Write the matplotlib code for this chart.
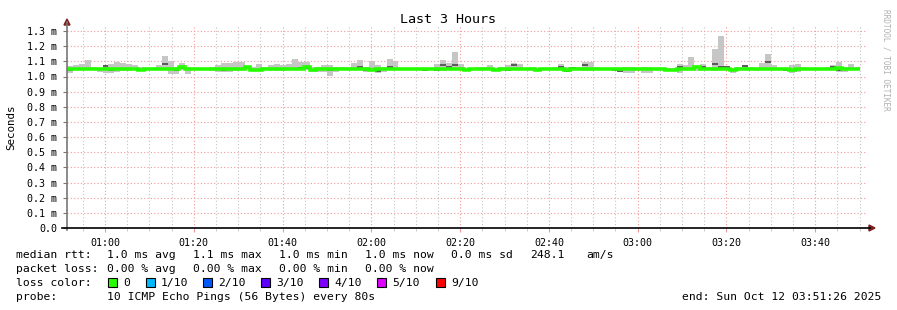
import numpy as np
import matplotlib
matplotlib.use("Agg")
import matplotlib.pyplot as plt
from matplotlib.lines import Line2D
from matplotlib.patches import Polygon, Rectangle
from matplotlib.ticker import FuncFormatter, MultipleLocator

plt.rcParams['font.family'] = ['DejaVu Sans Mono']

# ---------------- data (ms) ----------------
start_min = 51 + 26 / 60.0      # 00:51:26
end_min = start_min + 180.0      # 03:51:26
step_min = 80 / 60.0             # 80 s probe interval

smoke_hi = [
    1.069, 1.076, 1.083, 1.109, 1.062, 1.058, 1.066, 1.083, 1.096, 1.090,
    1.083, 1.076, 1.060, 1.055, 1.058, 1.076, 1.135, 1.104, 1.060, 1.089,
    1.060, 1.056, 1.056, 1.056, 1.060, 1.076, 1.089, 1.089, 1.096, 1.096,
    1.065, 1.060, 1.083, 1.060, 1.076, 1.083, 1.076, 1.083, 1.115, 1.096,
    1.096, 1.060, 1.065, 1.076, 1.076, 1.065, 1.060, 1.065, 1.087, 1.109,
    1.065, 1.102, 1.075, 1.065, 1.115, 1.102, 1.056, 1.058, 1.055, 1.055,
    1.055, 1.058, 1.083, 1.109, 1.089, 1.162, 1.083, 1.056, 1.055, 1.065,
    1.065, 1.076, 1.056, 1.065, 1.076, 1.087, 1.083, 1.056, 1.065, 1.056,
    1.055, 1.055, 1.065, 1.083, 1.065, 1.058, 1.065, 1.096, 1.096, 1.065,
    1.055, 1.055, 1.055, 1.055, 1.065, 1.065, 1.055, 1.065, 1.065, 1.055,
    1.055, 1.055, 1.055, 1.083, 1.076, 1.129, 1.065, 1.083, 1.065, 1.181,
    1.267, 1.065, 1.056, 1.065, 1.076, 1.065, 1.055, 1.089, 1.149, 1.076,
    1.055, 1.055, 1.076, 1.083, 1.065, 1.055, 1.055, 1.055, 1.060, 1.076,
    1.096, 1.060, 1.083, 1.060,
]
smoke_lo = [
    1.021, 1.040, 1.045, 1.045, 1.045, 1.030, 1.025, 1.025, 1.030, 1.035,
    1.035, 1.040, 1.035, 1.040, 1.045, 1.045, 1.040, 1.016, 1.016, 1.040,
    1.016, 1.045, 1.045, 1.045, 1.035, 1.030, 1.030, 1.030, 1.035, 1.040,
    1.040, 1.035, 1.035, 1.040, 1.040, 1.035, 1.035, 1.040, 1.040, 1.040,
    1.040, 1.030, 1.030, 1.030, 1.005, 1.030, 1.040, 1.045, 1.045, 1.045,
    1.030, 1.040, 1.020, 1.030, 1.040, 1.045, 1.045, 1.045, 1.045, 1.045,
    1.035, 1.040, 1.035, 1.035, 1.045, 1.045, 1.050, 1.045, 1.045, 1.045,
    1.045, 1.045, 1.040, 1.035, 1.035, 1.040, 1.045, 1.045, 1.045, 1.040,
    1.048, 1.048, 1.045, 1.045, 1.030, 1.045, 1.045, 1.035, 1.035, 1.045,
    1.045, 1.045, 1.035, 1.030, 1.025, 1.025, 1.035, 1.025, 1.025, 1.040,
    1.045, 1.035, 1.035, 1.025, 1.045, 1.040, 1.035, 1.045, 1.040, 1.035,
    1.040, 1.045, 1.020, 1.045, 1.045, 1.045, 1.035, 1.045, 1.045, 1.045,
    1.045, 1.035, 1.020, 1.030, 1.040, 1.045, 1.045, 1.045, 1.045, 1.045,
    1.030, 1.030, 1.045, 1.045,
]
median = [
    1.052, 1.052, 1.052, 1.052, 1.052, 1.052, 1.052, 1.052, 1.052, 1.052,
    1.052, 1.052, 1.040, 1.052, 1.052, 1.052, 1.052, 1.052, 1.052, 1.062,
    1.052, 1.052, 1.052, 1.052, 1.052, 1.052, 1.052, 1.052, 1.052, 1.052,
    1.062, 1.040, 1.040, 1.052, 1.052, 1.052, 1.052, 1.052, 1.052, 1.052,
    1.060, 1.045, 1.052, 1.052, 1.052, 1.052, 1.052, 1.052, 1.052, 1.052,
    1.052, 1.045, 1.052, 1.052, 1.052, 1.052, 1.052, 1.052, 1.052, 1.052,
    1.052, 1.052, 1.052, 1.052, 1.052, 1.052, 1.052, 1.045, 1.052, 1.052,
    1.052, 1.052, 1.045, 1.052, 1.052, 1.052, 1.052, 1.052, 1.052, 1.045,
    1.052, 1.052, 1.052, 1.052, 1.045, 1.052, 1.052, 1.052, 1.052, 1.052,
    1.052, 1.052, 1.052, 1.052, 1.052, 1.052, 1.052, 1.052, 1.052, 1.052,
    1.052, 1.045, 1.045, 1.052, 1.052, 1.052, 1.060, 1.052, 1.052, 1.052,
    1.052, 1.052, 1.040, 1.052, 1.052, 1.052, 1.052, 1.052, 1.052, 1.052,
    1.052, 1.052, 1.042, 1.052, 1.052, 1.052, 1.052, 1.052, 1.052, 1.052,
    1.058, 1.052, 1.052, 1.052,
]
nan = float('nan')
dark_ping = [nan] * len(median)
for i, v in {0: 1.043, 6: 1.070, 7: 1.040, 16: 1.085, 18: 1.040, 19: 1.058,
             26: 1.043, 29: 1.048, 39: 1.058, 40: 1.058, 44: 1.045, 49: 1.065,
             50: 1.045, 52: 1.038, 54: 1.065, 60: 1.040, 62: 1.045, 63: 1.075,
             64: 1.065, 65: 1.075, 74: 1.040, 75: 1.076, 83: 1.065, 84: 1.035,
             85: 1.058, 87: 1.075, 92: 1.040, 93: 1.035, 102: 1.040, 103: 1.065,
             107: 1.065, 109: 1.080, 110: 1.060, 111: 1.060, 114: 1.070,
             118: 1.098, 121: 1.040, 129: 1.060, 130: 1.040}.items():
    dark_ping[i] = v

loss_labels = ['0', '1/10', '2/10', '3/10', '4/10', '5/10', '9/10']
loss_colors = ['#26ff00', '#00b8ff', '#0059ff', '#5e00ff', '#7e00ff', '#dd00ff', '#ff0000']

# ---------------- figure ----------------
W, H = 897, 310
fig = plt.figure(figsize=(W / 100, H / 100), dpi=100)
fig.patch.set_facecolor('white')

x0, x1, y0, ytop = 67, 866, 228, 26
ax = fig.add_axes([x0 / W, (H - y0) / H, (x1 - x0) / W, (y0 - ytop) / H])
ax.set_facecolor('white')
ymax = (y0 - ytop) / 151.5
ax.set_xlim(start_min, end_min)
ax.set_ylim(0, ymax)

# grid
for v in np.arange(5 * np.ceil(start_min / 5), end_min, 5):
    if abs(v % 20) < 1e-6:
        ax.axvline(v, color='#f29a9a', lw=0.8, ls=(0, (1, 2)), zorder=1)
    else:
        ax.axvline(v, color='#c4c4c4', lw=0.8, ls=(0, (1, 2)), zorder=1)
for v in np.arange(0.1, 1.31, 0.1):
    ax.axhline(v, color='#f29a9a', lw=0.8, ls=(0, (1, 2)), zorder=1)

# smoke
n = len(median)
t = start_min + np.arange(n) * step_min
hi = np.array(smoke_hi)
lo = np.array(smoke_lo)
ax.bar(t, hi - lo, bottom=lo, width=step_min, align='edge', color='#c6c6c6',
       linewidth=0, zorder=2)
dk = np.array(dark_ping)
ax.hlines(dk, t, t + step_min, color='#5a5a5a', lw=1.4, zorder=3)

# median
tm = np.append(t, t[-1] + step_min)
med = np.append(median, median[-1])
ax.step(tm, med, where='post', color='#26ff00', lw=2.6, zorder=4,
        solid_joinstyle='miter', solid_capstyle='butt')

for s in ax.spines.values():
    s.set_visible(False)

ax.xaxis.set_major_locator(MultipleLocator(20))
ax.xaxis.set_minor_locator(MultipleLocator(5))
ax.xaxis.set_major_formatter(FuncFormatter(lambda v, p: f"{int(round(v)) // 60:02d}:{int(round(v)) % 60:02d}"))
ax.yaxis.set_major_locator(MultipleLocator(0.1))
ax.yaxis.set_major_formatter(FuncFormatter(lambda v, p: "0.0" if abs(v) < 1e-9 else f"{v:.1f} m"))
ax.tick_params(axis='x', which='major', length=3, color='#f29a9a', labelsize=7.2, pad=4)
ax.tick_params(axis='x', which='minor', length=2, color='#c4c4c4')
ax.tick_params(axis='y', length=3, color='#777777', labelsize=7.2, pad=4)

# axes lines with arrows (figure pixel coords)
def fx(px):
    return px / W

def fy(py):
    return 1 - py / H

fig.add_artist(Line2D([fx(x0), fx(x0)], [fy(y0 + 2), fy(22)], color='#777777', lw=1.2))
fig.add_artist(Line2D([fx(62), fx(870)], [fy(y0), fy(y0)], color='#000000', lw=1.2))
fig.add_artist(Polygon([[fx(x0 - 3), fy(25)], [fx(x0 + 3), fy(25)], [fx(x0), fy(19)]],
                       closed=True, color='#7f1f1f'))
fig.add_artist(Polygon([[fx(869), fy(y0 - 3)], [fx(869), fy(y0 + 3)], [fx(875), fy(y0)]],
                       closed=True, color='#7f1f1f'))

# titles
fig.text(fx(448), fy(23), 'Last 3 Hours', ha='center', va='baseline', fontsize=9.6)
fig.text(fx(11), fy(127), 'Seconds', ha='center', va='center', rotation=90, fontsize=7.8)
fig.text(fx(886), fy(60), 'RRDTOOL / TOBI OETIKER', ha='center', va='center',
         rotation=270, fontsize=5.6, color='#b0b0b0')

fs = 8.2
rows = [258, 272, 286, 300]   # text baselines (pixels from top)
for xp, s in [(16, 'median rtt:'), (107, '1.0 ms avg'), (193, '1.1 ms max'),
              (279, '1.0 ms min'), (365, '1.0 ms now'), (451, '0.0 ms sd'),
              (530, '248.1'), (586, 'am/s')]:
    fig.text(fx(xp), fy(rows[0]), s, ha='left', va='baseline', fontsize=fs)
for xp, s in [(16, 'packet loss:'), (107, '0.00 % avg'), (193, '0.00 % max'),
              (279, '0.00 % min'), (365, '0.00 % now')]:
    fig.text(fx(xp), fy(rows[1]), s, ha='left', va='baseline', fontsize=fs)
fig.text(fx(16), fy(rows[2]), 'loss color:', ha='left', va='baseline', fontsize=fs)
box_x = [108, 146, 203, 261, 319, 377, 436]
for bx, lab, col in zip(box_x, loss_labels, loss_colors):
    fig.add_artist(Rectangle((fx(bx), fy(rows[2] + 0.5)), 9 / W, 9 / H,
                             facecolor=col, edgecolor='black', lw=0.8))
    fig.text(fx(bx + 15), fy(rows[2]), lab, ha='left', va='baseline', fontsize=fs)
fig.text(fx(16), fy(rows[3]), 'probe:', ha='left', va='baseline', fontsize=fs)
fig.text(fx(107), fy(rows[3]), '10 ICMP Echo Pings (56 Bytes) every 80s', ha='left',
         va='baseline', fontsize=fs)
fig.text(fx(881), fy(rows[3]), 'end: Sun Oct 12 03:51:26 2025', ha='right',
         va='baseline', fontsize=fs)

fig.savefig('out.png', dpi=100, facecolor='white')
